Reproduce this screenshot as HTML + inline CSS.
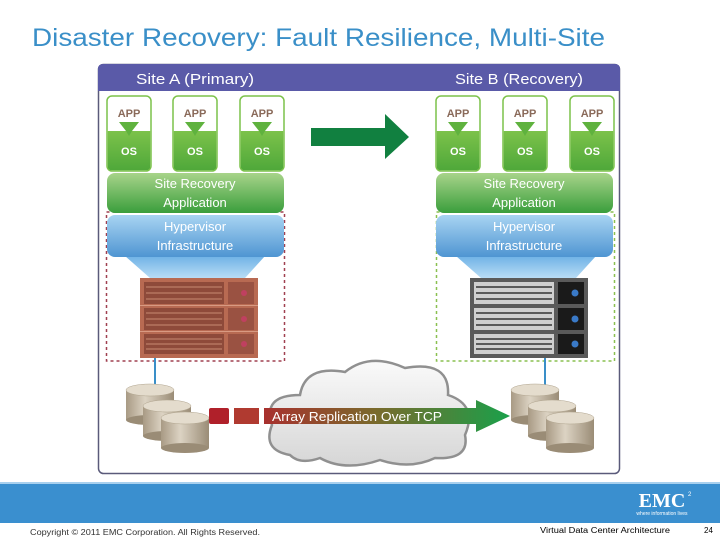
<!DOCTYPE html>
<html><head><meta charset="utf-8"><style>
body{margin:0;width:720px;height:540px;overflow:hidden;background:#fff;font-family:"Liberation Sans",sans-serif}
svg{position:absolute;left:0;top:0}
</style></head><body>
<svg width="720" height="540" viewBox="0 0 720 540" font-family="Liberation Sans, sans-serif">
<defs>
<linearGradient id="gApp" x1="0" y1="0" x2="0" y2="1"><stop offset="0" stop-color="#7cc24a"/><stop offset="1" stop-color="#4fa83a"/></linearGradient>
<linearGradient id="gSra" x1="0" y1="0" x2="0" y2="1"><stop offset="0" stop-color="#a8d48a"/><stop offset="1" stop-color="#3a9e3c"/></linearGradient>
<linearGradient id="gHyp" x1="0" y1="0" x2="0" y2="1"><stop offset="0" stop-color="#a8d4f2"/><stop offset="1" stop-color="#4f95d2"/></linearGradient>
<linearGradient id="gTrap" x1="0" y1="0" x2="0" y2="1"><stop offset="0" stop-color="#6fb2e6"/><stop offset="1" stop-color="#b8dcf5"/></linearGradient>
<linearGradient id="gDisk" x1="0" y1="0" x2="1" y2="0"><stop offset="0" stop-color="#a89a84"/><stop offset=".4" stop-color="#dcd3c3"/><stop offset="1" stop-color="#9a8c76"/></linearGradient>
<linearGradient id="gRep" x1="0" y1="0" x2="1" y2="0"><stop offset="0" stop-color="#a8302e"/><stop offset=".45" stop-color="#7a6a2c"/><stop offset="1" stop-color="#1aa04a"/></linearGradient>
<linearGradient id="gCloud" x1="0" y1="0" x2="0" y2="1"><stop offset="0" stop-color="#fafafa"/><stop offset="1" stop-color="#d6d6d6"/></linearGradient>
<g id="app">
<rect x="0" y="0" width="44" height="75" rx="5" fill="#fff" stroke="#7cc24a" stroke-width="1.5"/>
<path d="M0.75 35 H43.25 V70 Q43.25 74.25 39 74.25 H5 Q0.75 74.25 0.75 70 Z" fill="url(#gApp)"/>
<path d="M12 26 H32 L25 35 L22 40 L19 35 Z" fill="#5fb23e"/>
<text x="22" y="21" font-size="11" font-weight="bold" fill="#8a6a5a" text-anchor="middle">APP</text>
<text x="22" y="59" font-size="11" font-weight="bold" fill="#fff" text-anchor="middle">OS</text>
</g>
<g id="disks">
<g><rect x="0" y="6" width="48" height="30" fill="url(#gDisk)"/><ellipse cx="24" cy="36" rx="24" ry="5" fill="#9a8c76"/><ellipse cx="24" cy="6" rx="24" ry="6" fill="#e4dccd" stroke="#b0a48e" stroke-width=".5"/></g>
<g transform="translate(17,16)"><rect x="0" y="6" width="48" height="30" fill="url(#gDisk)"/><ellipse cx="24" cy="36" rx="24" ry="5" fill="#9a8c76"/><ellipse cx="24" cy="6" rx="24" ry="6" fill="#e4dccd" stroke="#b0a48e" stroke-width=".5"/></g>
<g transform="translate(35,28)"><rect x="0" y="6" width="48" height="30" fill="url(#gDisk)"/><ellipse cx="24" cy="36" rx="24" ry="5" fill="#9a8c76"/><ellipse cx="24" cy="6" rx="24" ry="6" fill="#e4dccd" stroke="#b0a48e" stroke-width=".5"/></g>
</g>
</defs>

<text x="32" y="46" font-size="25" fill="#3a8fc8" textLength="573" lengthAdjust="spacingAndGlyphs">Disaster Recovery: Fault Resilience, Multi-Site</text>

<rect x="98.5" y="64.5" width="521" height="409" rx="5" fill="#fff" stroke="#5a5a7a" stroke-width="1.5"/>
<path d="M98 91 V69 Q98 64 103 64 H615 Q620 64 620 69 V91 Z" fill="#5a5aa8"/>
<text x="136" y="84" font-size="15" fill="#fff" textLength="118" lengthAdjust="spacingAndGlyphs">Site A (Primary)</text>
<text x="455" y="84" font-size="15" fill="#fff" textLength="128" lengthAdjust="spacingAndGlyphs">Site B (Recovery)</text>

<!-- Site A -->
<rect x="106.5" y="212" width="178" height="149" fill="none" stroke="#a04050" stroke-width="1.5" stroke-dasharray="3,3"/>
<use href="#app" x="107" y="96"/><use href="#app" x="173" y="96"/><use href="#app" x="240" y="96"/>
<path d="M125 256 L265 256 L245 278 L150 278 Z" fill="url(#gTrap)"/>
<rect x="107" y="173" width="177" height="40" rx="8" fill="url(#gSra)"/>
<text x="195" y="188" font-size="13" fill="#fff" text-anchor="middle">Site Recovery</text>
<text x="195" y="207" font-size="13" fill="#fff" text-anchor="middle">Application</text>
<rect x="107" y="215" width="177" height="42" rx="8" fill="url(#gHyp)"/>
<text x="195" y="231" font-size="13" fill="#fff" text-anchor="middle">Hypervisor</text>
<text x="195" y="250" font-size="13" fill="#fff" text-anchor="middle">Infrastructure</text>
<g>
<rect x="140" y="278" width="118" height="80" fill="#b86a52"/>
<g fill="#8e4a3a">
<rect x="144" y="282" width="80" height="22"/><rect x="144" y="308" width="80" height="22"/><rect x="144" y="334" width="80" height="20"/>
<rect x="228" y="282" width="26" height="22" fill="#9a5242"/><rect x="228" y="308" width="26" height="22" fill="#9a5242"/><rect x="228" y="334" width="26" height="20" fill="#9a5242"/>
</g>
<g stroke="#c88a72" stroke-width="1">
<line x1="146" y1="287" x2="222" y2="287"/><line x1="146" y1="293" x2="222" y2="293"/><line x1="146" y1="299" x2="222" y2="299"/>
<line x1="146" y1="313" x2="222" y2="313"/><line x1="146" y1="319" x2="222" y2="319"/><line x1="146" y1="325" x2="222" y2="325"/>
<line x1="146" y1="339" x2="222" y2="339"/><line x1="146" y1="344" x2="222" y2="344"/><line x1="146" y1="349" x2="222" y2="349"/>
</g>
<line x1="140" y1="305.5" x2="258" y2="305.5" stroke="#d89a82"/><line x1="140" y1="331.5" x2="258" y2="331.5" stroke="#d89a82"/>
<circle cx="244" cy="293" r="3" fill="#c04060"/><circle cx="244" cy="319" r="3" fill="#c04060"/><circle cx="244" cy="344" r="3" fill="#c04060"/>
</g>
<line x1="155" y1="358" x2="155" y2="390" stroke="#3a8fc8" stroke-width="2"/>
<use href="#disks" x="126" y="384"/>

<!-- Site B -->
<rect x="436.5" y="212" width="178" height="149" fill="none" stroke="#8ac050" stroke-width="1.5" stroke-dasharray="3,3"/>
<use href="#app" x="436" y="96"/><use href="#app" x="503" y="96"/><use href="#app" x="570" y="96"/>
<path d="M456 256 L596 256 L576 278 L481 278 Z" fill="url(#gTrap)"/>
<rect x="436" y="173" width="177" height="40" rx="8" fill="url(#gSra)"/>
<text x="524" y="188" font-size="13" fill="#fff" text-anchor="middle">Site Recovery</text>
<text x="524" y="207" font-size="13" fill="#fff" text-anchor="middle">Application</text>
<rect x="436" y="215" width="177" height="42" rx="8" fill="url(#gHyp)"/>
<text x="524" y="231" font-size="13" fill="#fff" text-anchor="middle">Hypervisor</text>
<text x="524" y="250" font-size="13" fill="#fff" text-anchor="middle">Infrastructure</text>
<g>
<rect x="470" y="278" width="118" height="80" fill="#5a5a5a"/>
<g fill="#cfcfcf">
<rect x="474" y="282" width="80" height="22"/><rect x="474" y="308" width="80" height="22"/><rect x="474" y="334" width="80" height="20"/>
</g>
<g stroke="#333" stroke-width="1.5">
<line x1="476" y1="287" x2="552" y2="287"/><line x1="476" y1="293" x2="552" y2="293"/><line x1="476" y1="299" x2="552" y2="299"/>
<line x1="476" y1="313" x2="552" y2="313"/><line x1="476" y1="319" x2="552" y2="319"/><line x1="476" y1="325" x2="552" y2="325"/>
<line x1="476" y1="339" x2="552" y2="339"/><line x1="476" y1="344" x2="552" y2="344"/><line x1="476" y1="349" x2="552" y2="349"/>
</g>
<rect x="558" y="282" width="26" height="22" fill="#1a1a1a"/><rect x="558" y="308" width="26" height="22" fill="#1a1a1a"/><rect x="558" y="334" width="26" height="20" fill="#1a1a1a"/>
<circle cx="575" cy="293" r="3.5" fill="#3a7ac8"/><circle cx="575" cy="319" r="3.5" fill="#3a7ac8"/><circle cx="575" cy="344" r="3.5" fill="#3a7ac8"/>
</g>
<line x1="545" y1="358" x2="545" y2="390" stroke="#3a8fc8" stroke-width="2"/>
<use href="#disks" x="511" y="384"/>

<!-- top arrow -->
<path d="M311 128 H385 V114 L409 137 L385 159 V146 H311 Z" fill="#118040"/>

<!-- cloud -->
<path d="M290 455 Q262 450 272 425 Q262 395 300 395 Q305 365 345 372 Q370 352 405 368 Q450 360 448 395 Q478 405 465 435 Q470 460 435 458 Q410 470 380 460 Q345 472 320 458 Q300 465 290 455 Z" fill="url(#gCloud)" stroke="#909090" stroke-width="2.5"/>

<!-- replication arrow -->
<rect x="209" y="408" width="20" height="16" rx="2" fill="#b0202a"/>
<rect x="234" y="408" width="25" height="16" fill="#b03a30"/>
<path d="M264 408 H476 V400 L510 416 L476 432 V424 H264 Z" fill="url(#gRep)"/>
<text x="272" y="421" font-size="13" fill="#fff" textLength="170" lengthAdjust="spacingAndGlyphs">Array Replication Over TCP</text>

<!-- footer -->
<rect x="0" y="483" width="720" height="40" fill="#3a8fcf"/>
<rect x="0" y="482" width="720" height="2" fill="#a8d0ee"/>
<text x="662" y="507" font-size="20" font-weight="bold" fill="#fff" text-anchor="middle" font-family="Liberation Serif, serif">EMC</text>
<text x="688" y="496" font-size="6" fill="#fff">2</text>
<text x="662" y="515" font-size="5" fill="#fff" text-anchor="middle">where information lives</text>
<text x="30" y="535" font-size="8" fill="#333" textLength="230" lengthAdjust="spacingAndGlyphs">Copyright © 2011 EMC Corporation. All Rights Reserved.</text>
<text x="540" y="533" font-size="8" fill="#000" textLength="130" lengthAdjust="spacingAndGlyphs">Virtual Data Center Architecture</text>
<text x="704" y="533" font-size="8" fill="#000">24</text>
</svg>
</body></html>
